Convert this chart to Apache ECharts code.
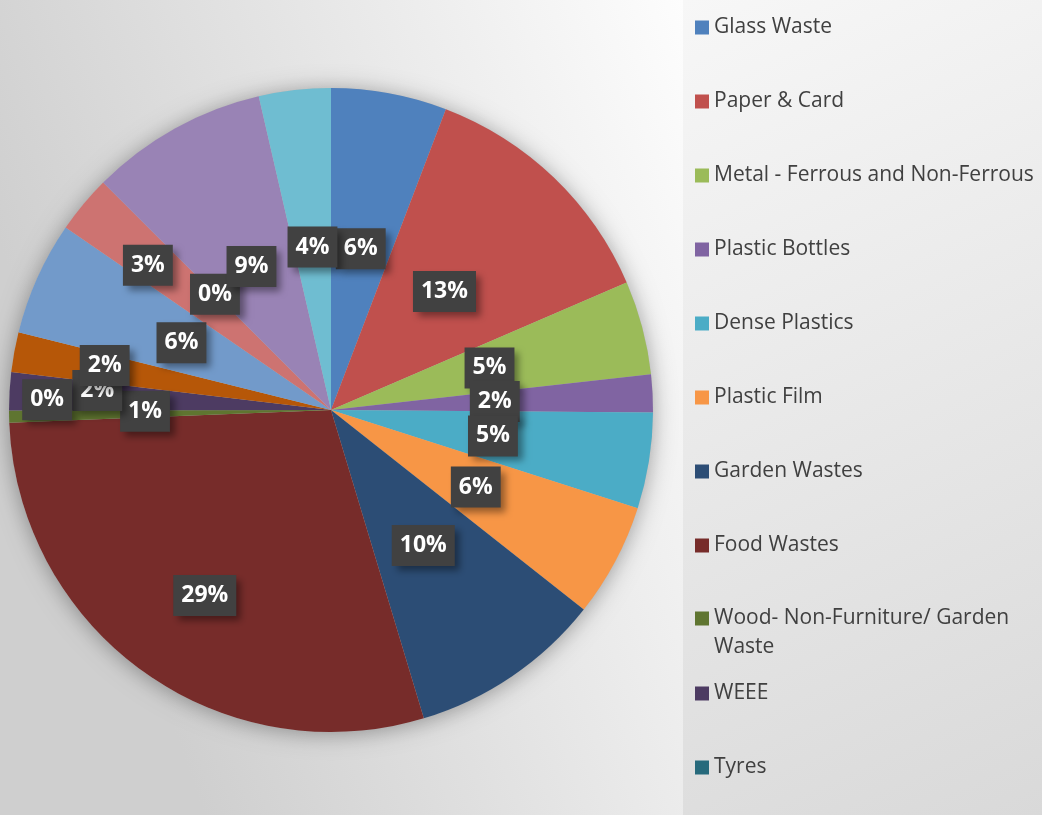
<!DOCTYPE html>
<html>
<head>
<meta charset="utf-8">
<script src="https://cdn.jsdelivr.net/npm/echarts@6/dist/echarts.min.js"></script>
<style>
html,body{margin:0;padding:0;background:#fff;}
#chart{width:1042px;height:815px;}
</style>
</head>
<body>
<div id="chart"></div>
<script>
// ---- data ----
var categories = [
  'Glass Waste', 'Paper & Card', 'Metal - Ferrous and Non-Ferrous', 'Plastic Bottles',
  'Dense Plastics', 'Plastic Film', 'Garden Wastes', 'Food Wastes',
  'Wood- Non-Furniture/ Garden Waste', 'WEEE', 'Tyres',
  'Other 12', 'Other 13', 'Other 14', 'Other 15', 'Other 16', 'Other 17'
];
var values = [5.8, 12.7, 4.7, 1.9, 4.8, 5.7, 9.7, 29.0, 0.6, 1.9, 0, 2.0, 5.7, 2.9, 0, 8.9, 3.6];
var legendTop = ['Glass Waste', 'Paper & Card', 'Metal - Ferrous and Non-Ferrous', 'Plastic Bottles',
  'Dense Plastics', 'Plastic Film', 'Garden Wastes', 'Food Wastes'];
var legendMid = ['Wood- Non-Furniture/ Garden Waste'];
var legendBottom = ['WEEE', 'Tyres'];

// ---- styles ----
var colors = ['#4F81BD', '#C0504D', '#9BBB59', '#8064A2', '#4BACC6', '#F79646', '#2C4D75', '#772C2A',
  '#5F7530', '#4D3B62', '#276A7C', '#B65708', '#729ACA', '#CD7371', '#AFC97A', '#9983B5', '#6FBDD1'];
// label nudges (px) mimicking the original's label collision handling
var labelNudge = {7: [-31, 52], 8: [-22, -2], 9: [-70, -10], 10: [-121, 9], 11: [-65, -15], 13: [-57, -40]};

var chart = echarts.init(document.getElementById('chart'), null, {renderer: 'canvas'});
var FONT = '"Open Sans", "Noto Sans", sans-serif';
var legendText = {color: '#404040', fontSize: 21, fontFamily: FONT, lineHeight: 29};

var pieData = categories.map(function (c, i) { return {name: c, value: values[i]}; });

var option = {
  color: colors,
  animation: false,
  graphic: [
    {type: 'rect', z: -10, silent: true, shape: {x: 0, y: 0, width: 683, height: 815},
      style: {fill: new echarts.graphic.LinearGradient(0, 0.3, 1, 0, [
        {offset: 0, color: '#cfcfcf'}, {offset: 1, color: '#fdfdfd'}])}},
    {type: 'rect', z: -10, silent: true, shape: {x: 683, y: 0, width: 359, height: 815},
      style: {fill: new echarts.graphic.LinearGradient(0, 0, 1, 1, [
        {offset: 0, color: '#f7f7f7'}, {offset: 1, color: '#d9d9d9'}])}}
  ],
  legend: [
    {data: legendTop, orient: 'vertical', left: 695, top: 13, padding: 0, itemGap: 45,
      itemWidth: 14, itemHeight: 14, icon: 'rect', textStyle: legendText, selectedMode: false},
    {data: legendMid, orient: 'vertical', left: 695, top: 575, padding: 0,
      itemWidth: 14, itemHeight: 14, icon: 'rect', textStyle: legendText, selectedMode: false,
      formatter: function (n) { return '\nWood- Non-Furniture/ Garden\nWaste'; }},
    {data: legendBottom, orient: 'vertical', left: 695, top: 679, padding: 0, itemGap: 45,
      itemWidth: 14, itemHeight: 14, icon: 'rect', textStyle: legendText, selectedMode: false}
  ],
  series: [
    {
      type: 'pie', silent: true, center: [331, 410], radius: 322, z: 1,
      data: [{name: '__shadow', value: 1}], label: {show: false}, labelLine: {show: false},
      itemStyle: {color: '#bbbbbb', shadowBlur: 22, shadowColor: 'rgba(0,0,0,0.35)', shadowOffsetX: 0, shadowOffsetY: 2}
    },
    {
      type: 'pie', center: [331, 410], radius: 322, startAngle: 90, clockwise: true, z: 2,
      percentPrecision: 2,
      data: pieData,
      itemStyle: {borderWidth: 0},
      label: {
        show: true, position: 'inside',
        formatter: function (p) { return Math.round(p.percent) + '%'; },
        color: '#ffffff', fontSize: 23, fontWeight: 'bold', fontFamily: FONT,
        backgroundColor: '#414141', padding: [8, 8, 7, 8], lineHeight: 26,
        shadowColor: 'rgba(0,0,0,0.4)', shadowBlur: 7, shadowOffsetX: 5, shadowOffsetY: 5
      },
      labelLine: {show: false},
      labelLayout: function (params) {
        var n = labelNudge[params.dataIndex];
        return n ? {dx: n[0], dy: n[1], hideOverlap: false} : {hideOverlap: false};
      },
      emphasis: {disabled: true}
    }
  ]
};
chart.setOption(option);
</script>
</body>
</html>
